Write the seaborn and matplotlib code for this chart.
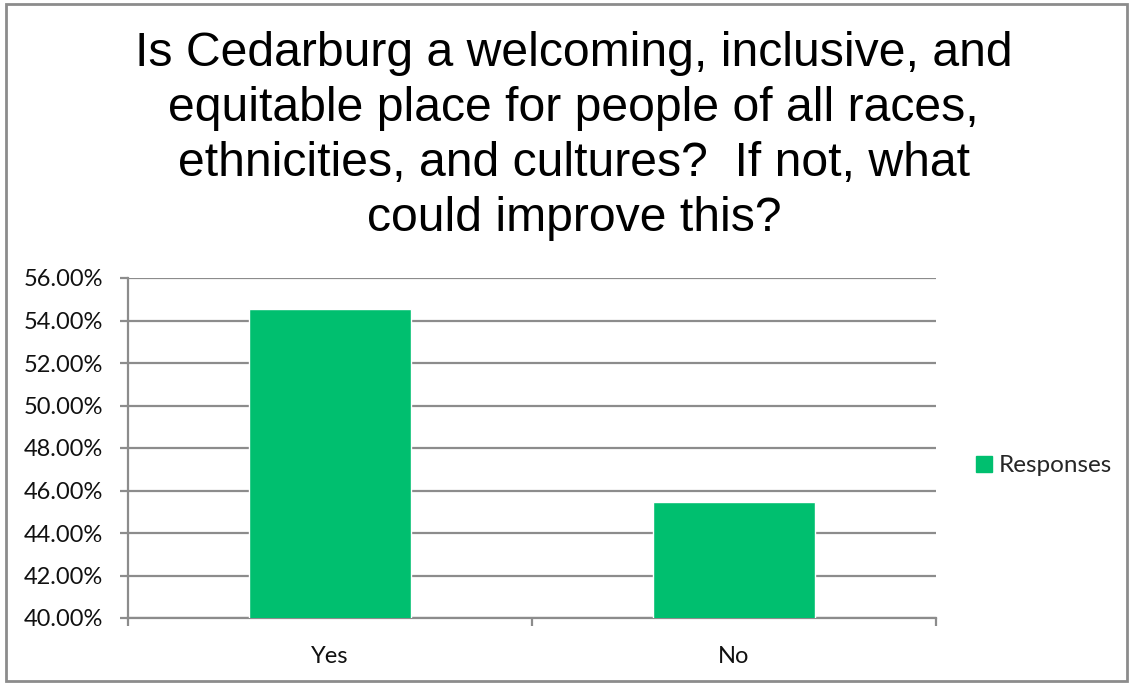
import matplotlib
matplotlib.use("Agg")
import matplotlib.pyplot as plt
import matplotlib.patches as mpatches
from matplotlib.ticker import FixedLocator, PercentFormatter
import seaborn as sns
import pandas as pd

# Survey responses (share of respondents, %)
categories = ["Yes", "No"]
responses = [54.55, 45.45]
y_ticks = [40, 42, 44, 46, 48, 50, 52, 54, 56]
series_name = "Responses"
title = ("Is Cedarburg a welcoming, inclusive, and\n"
         "equitable place for people of all races,\n"
         "ethnicities, and cultures?  If not, what\n"
         "could improve this?")

bar_color = "#00BF6F"
grid_color = "#8C8C8C"

sns.set_theme(style="white")
plt.rcParams["font.family"] = ["Lato", "DejaVu Sans"]

df = pd.DataFrame({"Answer": categories, "Share": responses})

fig = plt.figure(figsize=(11.34, 6.84), dpi=100)
ax = fig.add_axes([128 / 1134, 1 - 618 / 684, (936 - 128) / 1134, (618 - 278) / 684])

sns.barplot(data=df, x="Answer", y="Share", color=bar_color, width=0.4,
            saturation=1, ax=ax, zorder=3)

ax.set_ylim(40, 56)
ax.set_xlim(-0.5, 1.5)
ax.yaxis.set_major_locator(FixedLocator(y_ticks))
ax.yaxis.set_major_formatter(PercentFormatter(decimals=2))
ax.set_xlabel("")
ax.set_ylabel("")

ax.grid(axis="y", color=grid_color, linewidth=1.6, zorder=0)
ax.set_axisbelow(True)
for side in ["top", "right"]:
    ax.spines[side].set_visible(False)
for side in ["left", "bottom"]:
    ax.spines[side].set_color(grid_color)
    ax.spines[side].set_linewidth(1.6)

ax.tick_params(axis="y", which="major", left=True, length=6, width=1.6,
               color=grid_color, labelsize=17, labelcolor="#111111", pad=12)
ax.tick_params(axis="x", which="major", bottom=False, labelsize=17,
               labelcolor="#111111", pad=14)
ax.xaxis.set_minor_locator(FixedLocator([-0.5, 0.5, 1.5]))
ax.tick_params(axis="x", which="minor", bottom=True, length=6, width=1.6,
               color=grid_color)

fig.text(0.506, 1 - 31 / 684, title, ha="center", va="top",
         fontsize=34.7, family=["Liberation Sans", "DejaVu Sans"],
         linespacing=1.29, color="#000000")

handle = mpatches.Patch(color=bar_color, label=series_name)
fig.legend(handles=[handle], loc="center left",
           bbox_to_anchor=(976 / 1134, 1 - 466 / 684), frameon=False,
           fontsize=17.5, handlelength=0.65, handleheight=0.65,
           handletextpad=0.3, borderpad=0, borderaxespad=0)

# Outer chart frame
fig.add_artist(mpatches.Rectangle((6 / 1134, 3 / 684), 1121 / 1134, 677 / 684,
                                  transform=fig.transFigure, fill=False,
                                  edgecolor="#8C8C8C", linewidth=2))

fig.savefig("out.png", dpi=100, facecolor="white")
